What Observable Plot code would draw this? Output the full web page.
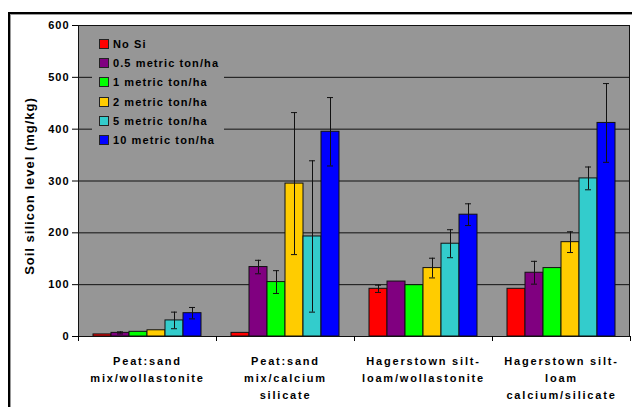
<!DOCTYPE html>
<html>
<head>
<meta charset="utf-8">
<script src="https://cdn.jsdelivr.net/npm/d3@7"></script>
<script src="https://cdn.jsdelivr.net/npm/@observablehq/plot@0.6"></script>
<style>
  html, body { margin: 0; padding: 0; background: #fff; }
  #wrap { position: relative; width: 632px; height: 407px; overflow: hidden; font-family: "Liberation Sans", Arial, sans-serif; }
  #border { position: absolute; left: 8px; top: 12px; width: 700px; height: 500px; border-left: 2px solid #000; border-top: 2px solid #000; box-shadow: inset 1px 1px 0 #999; }
  #chart { position: absolute; left: 0; top: 0; }
  #chart svg text { letter-spacing: 1px; }
  #chart svg g[aria-label="text"] text { letter-spacing: 1.8px; }
  #ytitle { position: absolute; left: 29px; top: 186px; transform: translate(-50%, -50%) rotate(-90deg); white-space: nowrap; font-weight: bold; font-size: 13px; letter-spacing: 1px; color: #000; }
  #legend { position: absolute; left: 92px; top: 33px; width: 132px; height: 117px; background: #969696; }
  .lrow { position: absolute; left: 7px; height: 14px; display: flex; align-items: center; font-weight: bold; font-size: 11px; letter-spacing: 1.1px; white-space: nowrap; color: #000; }
  .lsw { width: 8px; height: 8px; border: 1px solid #222; margin-right: 4px; box-sizing: content-box; }
</style>
</head>
<body>
<div id="wrap">
  <div id="border"></div>
  <div id="chart"></div>
  <div id="ytitle">Soil silicon level (mg/kg)</div>
  <div id="legend"></div>
</div>
<script>
const groups = ["Peat:sand mix/wollastonite", "Peat:sand mix/calcium silicate", "Hagerstown silt-loam/wollastonite", "Hagerstown silt-loam calcium/silicate"];
const groupLabels = ["Peat:sand\nmix/wollastonite", "Peat:sand\nmix/calcium\nsilicate", "Hagerstown silt-\nloam/wollastonite", "Hagerstown silt-\nloam\ncalcium/silicate"];
const series = ["No Si", "0.5 metric ton/ha", "1 metric ton/ha", "2 metric ton/ha", "5 metric ton/ha", "10 metric ton/ha"];
const colors = ["#FF0000", "#800080", "#00FF00", "#FFCC00", "#33CCCC", "#0000FF"];
const values = [
  [4, 7, 9, 12, 31, 45],
  [7, 134, 105, 295, 193, 395],
  [92, 106, 99, 132, 179, 235],
  [92, 123, 132, 182, 305, 412]
];
const errors = [
  [0, 2, 0, 0, 16, 11],
  [0, 13, 22, 137, 146, 66],
  [7, 0, 0, 19, 27, 21],
  [0, 22, 0, 20, 22, 76]
];
const yTicks = [0, 100, 200, 300, 400, 500, 600];

const rows = [];
groups.forEach((g, gi) => series.forEach((s, si) => rows.push({
  group: g, label: groupLabels[gi], series: s, v: values[gi][si], err: errors[gi][si]
})));

const plot = Plot.plot({
  width: 632, height: 407,
  marginTop: 25, marginLeft: 78, marginRight: 2, marginBottom: 71,
  facet: {data: rows, x: "group"},
  fx: {domain: groups, padding: 0, axis: null, label: null},
  x: {domain: series, paddingInner: 0, paddingOuter: 0.77, axis: null},
  y: {domain: [0, 600], ticks: yTicks, tickSize: 6, tickPadding: 3, label: null, tickFormat: d => String(d)},
  color: {domain: series, range: colors},
  style: {fontFamily: "Liberation Sans, Arial, sans-serif", fontSize: "11px", fontWeight: "bold", background: "transparent", color: "#000"},
  marks: [
    Plot.ruleY(yTicks.filter(d => d > 0), {stroke: "#111", strokeWidth: 1}),
    Plot.barY(rows, {x: "series", y: "v", fill: "series", stroke: "#111", strokeWidth: 1, inset: 0}),
    Plot.ruleX(rows, {filter: d => d.err > 0, x: "series", y1: d => d.v - d.err, y2: d => d.v + d.err, stroke: "#111", strokeWidth: 1}),
    Plot.tickY(rows, {filter: d => d.err > 0, x: "series", y: d => d.v + d.err, stroke: "#111", insetLeft: 6, insetRight: 6}),
    Plot.tickY(rows, {filter: d => d.err > 0, x: "series", y: d => d.v - d.err, stroke: "#111", insetLeft: 6, insetRight: 6}),
    Plot.ruleY([0], {stroke: "#000", strokeWidth: 1}),
    Plot.text(rows, {filter: d => d.series === series[0], text: "label", frameAnchor: "bottom", lineAnchor: "top", dy: 16, lineHeight: 1.55, fontSize: 11, fontWeight: "bold", fill: "#000"})
  ]
});

document.getElementById("chart").appendChild(plot);

// plot-area background, border and group boundary ticks, derived from the plot's scales
try {
  const svg = d3.select(plot);
  const ys = plot.scale("y");
  const y0 = ys.apply(0), yTop = ys.apply(600);
  const fx = plot.scale("fx");
  const left = fx.apply(groups[0]);
  const right = fx.apply(groups[groups.length - 1]) + fx.bandwidth;
  svg.insert("rect", ":first-child").attr("x", left).attr("y", yTop)
    .attr("width", right - left).attr("height", y0 - yTop)
    .attr("fill", "#969696");
  svg.append("rect").attr("x", left + 0.5).attr("y", yTop + 0.5)
    .attr("width", right - left - 1).attr("height", y0 - yTop)
    .attr("fill", "none").attr("stroke", "#111");
  const edges = groups.map(g => fx.apply(g)).concat([right]);
  svg.append("g").selectAll("line").data(edges).join("line")
    .attr("x1", d => Math.round(d) + 0.5).attr("x2", d => Math.round(d) + 0.5)
    .attr("y1", y0).attr("y2", y0 + 5).attr("stroke", "#000");
} catch (e) { console.error(e); }

// legend
const legend = document.getElementById("legend");
series.forEach((s, i) => {
  const row = document.createElement("div");
  row.className = "lrow";
  row.style.top = (4 + i * 19.2) + "px";
  const sw = document.createElement("div");
  sw.className = "lsw";
  sw.style.background = colors[i];
  const t = document.createElement("span");
  t.textContent = s;
  row.appendChild(sw); row.appendChild(t);
  legend.appendChild(row);
});
</script>
</body>
</html>
